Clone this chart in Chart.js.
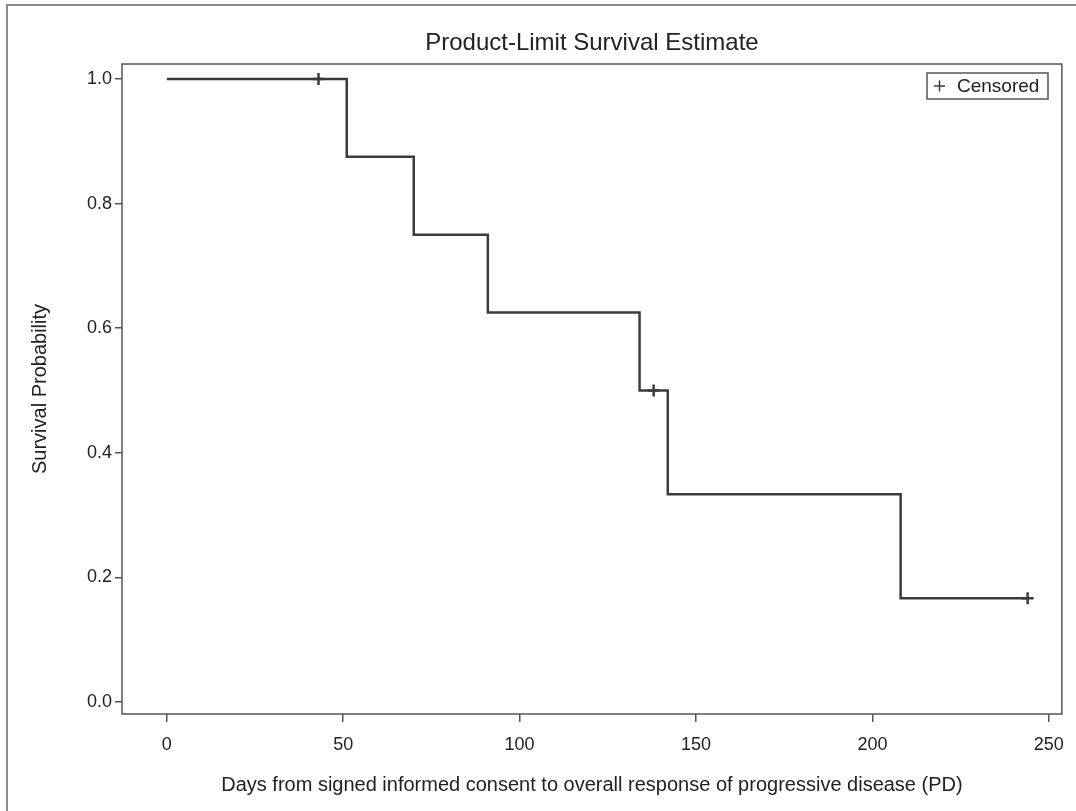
<!DOCTYPE html>
<html>
<head>
<meta charset="utf-8">
<title>Product-Limit Survival Estimate</title>
<script src="https://cdn.jsdelivr.net/npm/chart.js@4/dist/chart.umd.min.js"></script>
<style>
  html, body { margin: 0; padding: 0; background: #fff; }
  #wrap { width: 1076px; height: 811px; }
</style>
</head>
<body>
<div id="wrap"><canvas id="km"></canvas></div>
<script>
// Kaplan-Meier step points: day of each event and survival after it
const eventDays = [0, 51, 70, 91, 134, 142, 208, 244];
const survival  = [1.0, 0.875, 0.75, 0.625, 0.5, 0.3333, 0.1667, 0.1667];

// censored observations
const censorDays = [43, 138, 244];
const censorSurv = [1.0, 0.5, 0.1667];

const xTicks = [0, 50, 100, 150, 200, 250];
const yTicks = [0.0, 0.2, 0.4, 0.6, 0.8, 1.0];

const chartTitle = 'Product-Limit Survival Estimate';

const ink = '#3c3c3c';
const font = 'Liberation Sans, Arial, sans-serif';

function toPoints(xs, ys) {
    return xs.map((x, i) => ({ x: x, y: ys[i] }));
}

// title, frame around the plot, outer figure edge and the censored legend box
const framePlugin = {
    id: 'frame',
    beforeDraw(chart) {
        const ctx = chart.ctx;
        ctx.save();
        ctx.fillStyle = '#fff';
        ctx.fillRect(0, 0, chart.width, chart.height);
        ctx.strokeStyle = '#8a8a8a';
        ctx.lineWidth = 2;
        ctx.strokeRect(7, 5, chart.width + 10, chart.height + 10);
        ctx.restore();
    },
    afterDraw(chart) {
        const ctx = chart.ctx;
        const a = chart.chartArea;
        ctx.save();
        ctx.fillStyle = '#222';
        ctx.font = '24px ' + font;
        ctx.textAlign = 'center';
        ctx.textBaseline = 'middle';
        ctx.fillText(chartTitle, (a.left + a.right) / 2, 43);

        ctx.strokeStyle = '#555';
        ctx.lineWidth = 1.5;
        ctx.strokeRect(a.left, a.top, a.right - a.left, a.bottom - a.top);

        // legend
        const bx = 927, by = 73, bw = 121, bh = 26;
        ctx.strokeRect(bx, by, bw, bh);
        ctx.strokeStyle = ink;
        ctx.lineWidth = 1.5;
        ctx.beginPath();
        ctx.moveTo(bx + 7, by + bh / 2);
        ctx.lineTo(bx + 18, by + bh / 2);
        ctx.moveTo(bx + 12.5, by + bh / 2 - 5.5);
        ctx.lineTo(bx + 12.5, by + bh / 2 + 5.5);
        ctx.stroke();
        ctx.fillStyle = '#222';
        ctx.font = '19px ' + font;
        ctx.textAlign = 'left';
        ctx.textBaseline = 'middle';
        ctx.fillText(chart.data.datasets[1].label, bx + 30, by + bh / 2 + 1);
        ctx.restore();
    }
};

const ctx = document.getElementById('km').getContext('2d');
new Chart(ctx, {
    type: 'scatter',
    data: {
        datasets: [{
            label: 'Survival',
            data: toPoints(eventDays, survival),
            showLine: true,
            stepped: true,
            borderColor: ink,
            borderWidth: 2.5,
            pointRadius: 0,
            fill: false
        }, {
            label: 'Censored',
            data: toPoints(censorDays, censorSurv),
            showLine: false,
            pointStyle: 'cross',
            pointRadius: 6,
            borderColor: ink,
            borderWidth: 2.5,
            backgroundColor: ink
        }]
    },
    options: {
        responsive: true,
        maintainAspectRatio: false,
        animation: false,
        layout: { padding: { left: 0, right: 13, top: 64, bottom: 0 } },
        plugins: {
            legend: { display: false },
            tooltip: { enabled: false },
            title: { display: false }
        },
        scales: {
            x: {
                type: 'linear',
                min: -12.7,
                max: 253.7,
                afterBuildTicks(s) { s.ticks = xTicks.map(v => ({ value: v })); },
                afterFit(s) { s.height = 97; },
                grid: { drawOnChartArea: false, drawTicks: true, tickLength: 8, color: '#555', lineWidth: 1.5 },
                border: { display: false },
                ticks: {
                    color: '#222',
                    padding: 12,
                    maxRotation: 0,
                    font: { family: font, size: 18 }
                },
                title: {
                    display: true,
                    text: 'Days from signed informed consent to overall response of progressive disease (PD)',
                    color: '#222',
                    font: { family: font, size: 20 },
                    padding: { top: 4, bottom: 14 }
                }
            },
            y: {
                type: 'linear',
                min: -0.0192,
                max: 1.024,
                afterBuildTicks(s) { s.ticks = yTicks.map(v => ({ value: v })); },
                afterFit(s) { s.width = 122; },
                grid: { drawOnChartArea: false, drawTicks: true, tickLength: 7, color: '#555', lineWidth: 1.5 },
                border: { display: false },
                ticks: {
                    color: '#222',
                    padding: 3,
                    font: { family: font, size: 18 },
                    callback: v => v.toFixed(1)
                },
                title: {
                    display: true,
                    text: 'Survival Probability',
                    color: '#222',
                    font: { family: font, size: 20 },
                    padding: { top: 28, bottom: 4 }
                }
            }
        }
    },
    plugins: [framePlugin]
});
</script>
</body>
</html>
